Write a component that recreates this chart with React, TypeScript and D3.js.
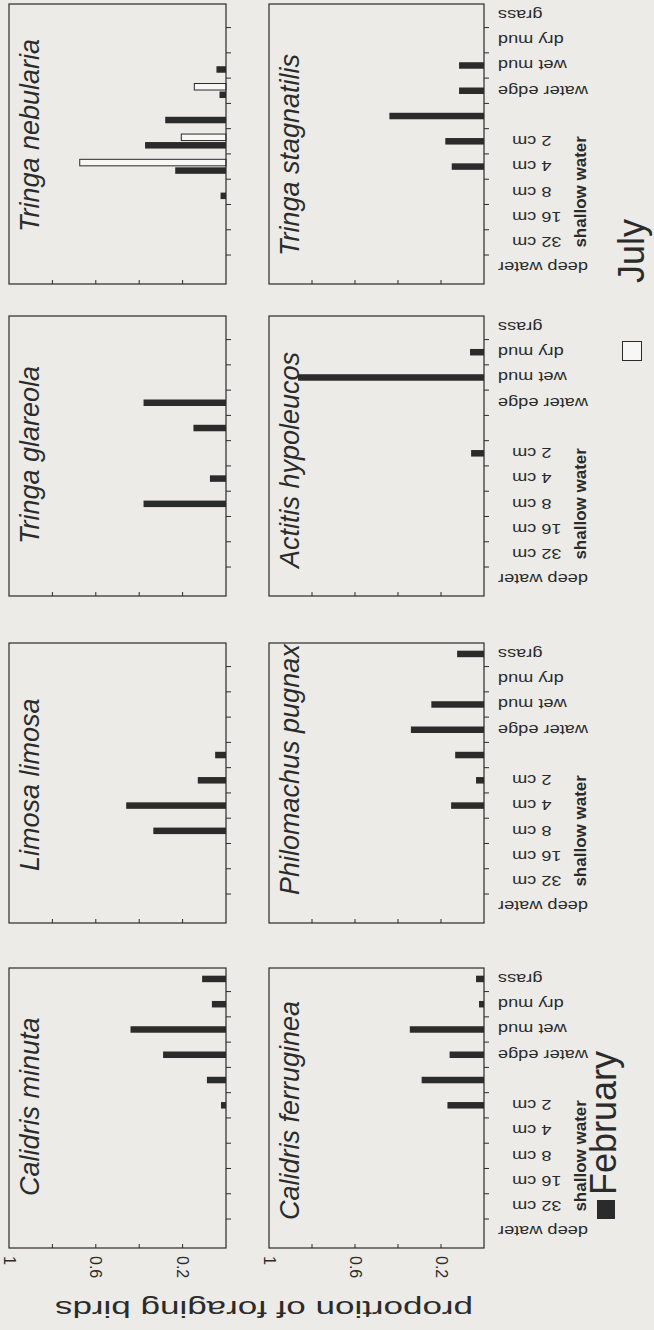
import React from 'react';
import * as d3 from 'd3';

// habitat bands, listed top to bottom as they appear in the figure
const habitats = ['grass', 'dry mud', 'wet mud', 'water edge', '', '2 cm', '4 cm', '8 cm', '16 cm', '32 cm', 'deep water'];
const depthLabels = ['2 cm', '4 cm', '8 cm', '16 cm', '32 cm'];

const speciesNames = [
  'Tringa nebularia',
  'Tringa stagnatilis',
  'Tringa glareola',
  'Actitis hypoleucos',
  'Limosa limosa',
  'Philomachus pugnax',
  'Calidris minuta',
  'Calidris ferruginea',
];

// proportion of foraging birds per habitat (February)
const febNebularia = [0, 0, 0.044, 0.03, 0.28, 0.373, 0.234, 0.025, 0, 0, 0];
const febStagnatilis = [0, 0, 0.116, 0.116, 0.44, 0.18, 0.15, 0, 0, 0, 0];
const febGlareola = [0, 0, 0, 0.38, 0.15, 0, 0.074, 0.38, 0, 0, 0];
const febActitis = [0, 0.065, 0.865, 0, 0, 0.06, 0, 0, 0, 0, 0];
const febLimosa = [0, 0, 0, 0, 0.05, 0.13, 0.46, 0.335, 0, 0, 0];
const febPhilomachus = [0.125, 0, 0.245, 0.34, 0.134, 0.037, 0.153, 0, 0, 0, 0];
const febMinuta = [0.11, 0.065, 0.44, 0.29, 0.088, 0.023, 0, 0, 0, 0, 0];
const febFerruginea = [0.037, 0.023, 0.345, 0.16, 0.29, 0.17, 0, 0, 0, 0, 0];

// July (only Tringa nebularia)
const julNebularia = [0, 0, 0, 0.146, 0, 0.206, 0.674, 0, 0, 0, 0];

const valueTicks = [0.2, 0.4, 0.6, 0.8];
const valueTickLabels = [1, 0.6, 0.2];
const seasons = ['February', 'July'];

const febSeries = [febNebularia, febStagnatilis, febGlareola, febActitis, febLimosa, febPhilomachus, febMinuta, febFerruginea];
const julSeries = [julNebularia, null, null, null, null, null, null, null];

const W = 654;
const H = 1330;
const BG = '#ecebe8';
const INK = '#2b2b2b';
const colX = [[9, 226], [269, 484]];
const rowTop = [4, 316, 643, 968];
const panelH = 280;
const barH = 6.5;

function Panel({ idx }: { idx: number }) {
  const row = Math.floor(idx / 2);
  const col = idx % 2;
  const [x0, x1] = colX[col];
  const top = rowTop[row];
  const bottom = top + panelH;
  const feb = febSeries[idx];
  const jul = julSeries[idx];

  const x = d3.scaleLinear().domain([0, 1]).range([x1, x0]);
  const y = d3.scaleBand<number>().domain(d3.range(habitats.length)).range([top - 1.7, top + 276.3]);
  const sub = d3.scaleBand<string>().domain(['July', 'February']).range([-8, 8]);
  const center = (i: number) => (y(i) as number) + y.bandwidth() / 2;

  const febY = (i: number) => jul ? center(i) + (sub('February') as number) + (sub.bandwidth() - barH) / 2 : center(i) - barH / 2;
  const julY = (i: number) => center(i) + (sub('July') as number) + (sub.bandwidth() - barH) / 2;

  const depthCenters = habitats.map((h, i) => (depthLabels.includes(h) ? center(i) : null)).filter(v => v !== null) as number[];

  return (
    <g>
      {feb.map((v, i) => v > 0 && (
        <rect key={'f' + i} x={x(v)} y={febY(i)} width={x(0) - x(v)} height={barH} fill={INK} />
      ))}
      {jul && jul.map((v, i) => v > 0 && (
        <rect key={'j' + i} x={x(v)} y={julY(i)} width={x(0) - x(v)} height={barH} fill="#f7f7f5" stroke={INK} strokeWidth={1} />
      ))}
      <rect x={x0} y={top} width={x1 - x0} height={panelH} fill="none" stroke={INK} strokeWidth={1.2} />
      {d3.range(1, habitats.length).map(i => (
        <line key={'ct' + i} x1={x1} x2={x1 + 5} y1={y(i)} y2={y(i)} stroke={INK} strokeWidth={1} />
      ))}
      {valueTicks.map(v => (
        <line key={'vt' + v} x1={x(v)} x2={x(v)} y1={bottom} y2={bottom - 4} stroke={INK} strokeWidth={1} />
      ))}
      <text
        transform={`translate(${x0 + 30},${top + (col === 0 ? 228 : 252)}) rotate(-90)`}
        fontSize={27}
        fontStyle="italic"
        fill={INK}
      >
        {speciesNames[idx]}
      </text>
      {col === 1 && habitats.map((h, i) => h && (
        <text
          key={'hl' + i}
          transform={`translate(${x1 + (depthLabels.includes(h) ? 28 : 14)},${center(i)}) rotate(180) scale(1.3,1)`}
          textAnchor="end"
          dominantBaseline="central"
          fontSize={14}
          fill={INK}
        >
          {h}
        </text>
      ))}
      {col === 1 && (
        <text
          transform={`translate(${x1 + 96},${d3.mean(depthCenters)}) rotate(-90)`}
          textAnchor="middle"
          dominantBaseline="central"
          fontSize={17}
          fontWeight="bold"
          fill={INK}
        >
          shallow water
        </text>
      )}
      {row === rowTop.length - 1 && valueTickLabels.map(v => (
        <text
          key={'vl' + v}
          transform={`translate(${x(v)},${bottom + 8}) rotate(90)`}
          dominantBaseline="central"
          fontSize={16}
          fill={INK}
        >
          {String(v)}
        </text>
      ))}
    </g>
  );
}

export default function App() {
  return (
    <svg
      width={W}
      height={H}
      style={{ position: 'absolute', left: 0, top: 0 }}
      fontFamily="'Liberation Sans', Arial, sans-serif"
    >
      <rect width={W} height={H} fill={BG} />
      {speciesNames.map((_, i) => <Panel key={i} idx={i} />)}
      <text
        transform="translate(264,1309) rotate(180)"
        textAnchor="middle"
        dominantBaseline="central"
        fontSize={24}
        textLength={418}
        lengthAdjust="spacingAndGlyphs"
        fill={INK}
      >
        proportion of foraging birds
      </text>
      {/* legend */}
      <rect x={597} y={1200} width={18} height={19} fill={INK} />
      <text transform="translate(616,1195) rotate(-90)" fontSize={36} fill={INK}>{seasons[0]}</text>
      <rect x={622.5} y={341.5} width={19} height={19} fill="#f7f7f5" stroke={INK} strokeWidth={1} />
      <text transform="translate(644,283) rotate(-90)" fontSize={36} fill={INK}>{seasons[1]}</text>
    </svg>
  );
}
